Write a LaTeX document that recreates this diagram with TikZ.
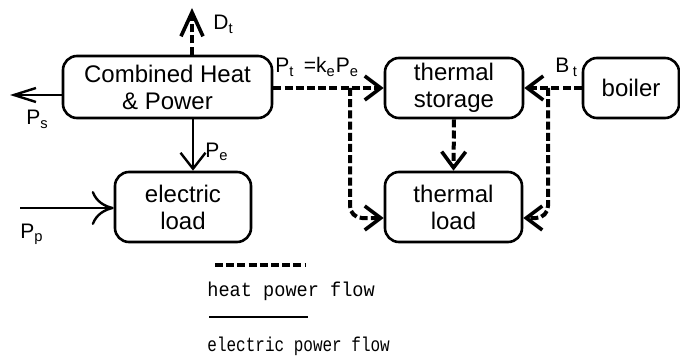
\documentclass[tikz,border=0pt]{standalone}
\usepackage{fontspec}
\setmainfont{Liberation Sans}
\newfontfamily\legendfont{Liberation Mono}
\usetikzlibrary{arrows.meta,calc}
\begin{document}
\begin{tikzpicture}[x=0.5pt,y=-0.5pt,
  box/.style={draw,line width=1.3pt,rounded corners=7pt,inner sep=0pt,align=center,
    font=\fontsize{12}{13.5}\selectfont},
  heat/.style={line width=2pt,dash pattern=on 4pt off 1.6pt},
  heatarrow/.style={heat,-{Straight Barb[length=8pt,width=12pt,line width=1.8pt]}},
  elec/.style={line width=1.2pt},
  lbl/.style={anchor=base west,inner sep=0pt,font=\fontsize{10.5}{12}\selectfont},
  legend/.style={anchor=base west,inner sep=0pt,font=\legendfont\fontsize{10}{11}\selectfont}]

\useasboundingbox (0,0) rectangle (680,358);

% boxes
\node[box,minimum width=104.5pt,minimum height=31pt] (chp) at (167.5,87) {Combined Heat\\\& Power};
\node[box,minimum width=68pt,minimum height=35pt] (el) at (183,207) {electric\\load};
\node[box,minimum width=69pt,minimum height=30pt] (ts) at (454,88) {thermal\\storage};
\node[box,minimum width=68.5pt,minimum height=35pt] (tl) at (453.5,207) {thermal\\load};
\node[box,minimum width=48pt,minimum height=30pt] (boiler) at (631,88) {boiler};

% free ends and junctions
\coordinate (dt) at (192,8);
\coordinate (ps) at (10,95);
\coordinate (pp) at (20,208);
\coordinate (j1) at (350,88);
\coordinate (j2) at (548,88);
\coordinate (tlL) at ([yshift=-5.5pt]tl.west);
\coordinate (tlR) at ([yshift=-5.5pt]tl.east);

% electric connectors
\draw[elec,-{Straight Barb[length=11pt,width=7pt,line width=1.2pt]}] (chp.west |- ps) -- (ps);
\draw[elec,-{Straight Barb[length=8pt,width=12.5pt,line width=1.2pt]}] ([xshift=12.75pt]chp.south) -- ([xshift=5pt]el.north);
\draw[elec,-{To[length=11pt,width=17pt,line width=1.2pt]}] (pp) -- (el.west |- pp);

% heat connectors
\draw[heat,-{Straight Barb[length=12pt,width=11pt,line width=1.8pt]}] (chp.north -| dt) -- (dt);
\draw[heatarrow] (chp.east |- ts.west) -- (ts.west);
\draw[heatarrow,rounded corners=6pt] (j1) -- (j1 |- tlL) -- (tlL);
\draw[heatarrow] (ts.south) -- (tl.north);
\draw[heatarrow] (boiler.west) -- (ts.east);
\draw[heatarrow,rounded corners=6pt] (j2) -- (j2 |- tlR) -- (tlR);

% labels
\node[lbl] (lDt) at (213,30) {D\textsubscript{t}};
\node[lbl] (lPs) at (26,125) {P\textsubscript{s}};
\node[lbl] (lPe) at (205,157) {P\textsubscript{e}};
\node[lbl] (lPp) at (20,238) {P\textsubscript{p}};
\node[lbl] (lPt) at (275,73) {P\textsubscript{t} \,=k\textsubscript{e}P\textsubscript{e}};
\node[lbl] (lBt) at (555,73) {B\,\textsubscript{t}};

% legend
\coordinate (lh1) at (215,265);
\coordinate (lh2) at (305,265);
\coordinate (le1) at (209,317);
\coordinate (le2) at (308,317);
\draw[heat] (lh1) -- (lh2);
\draw[elec,line width=1.4pt] (le1) -- (le2);
\node[legend] (lgh) at (207,296) {\scalebox{0.93}[1]{heat power flow}};
\node[legend] (lge) at (207,351) {\scalebox{0.8}[1]{electric power flow}};
\end{tikzpicture}
\end{document}
